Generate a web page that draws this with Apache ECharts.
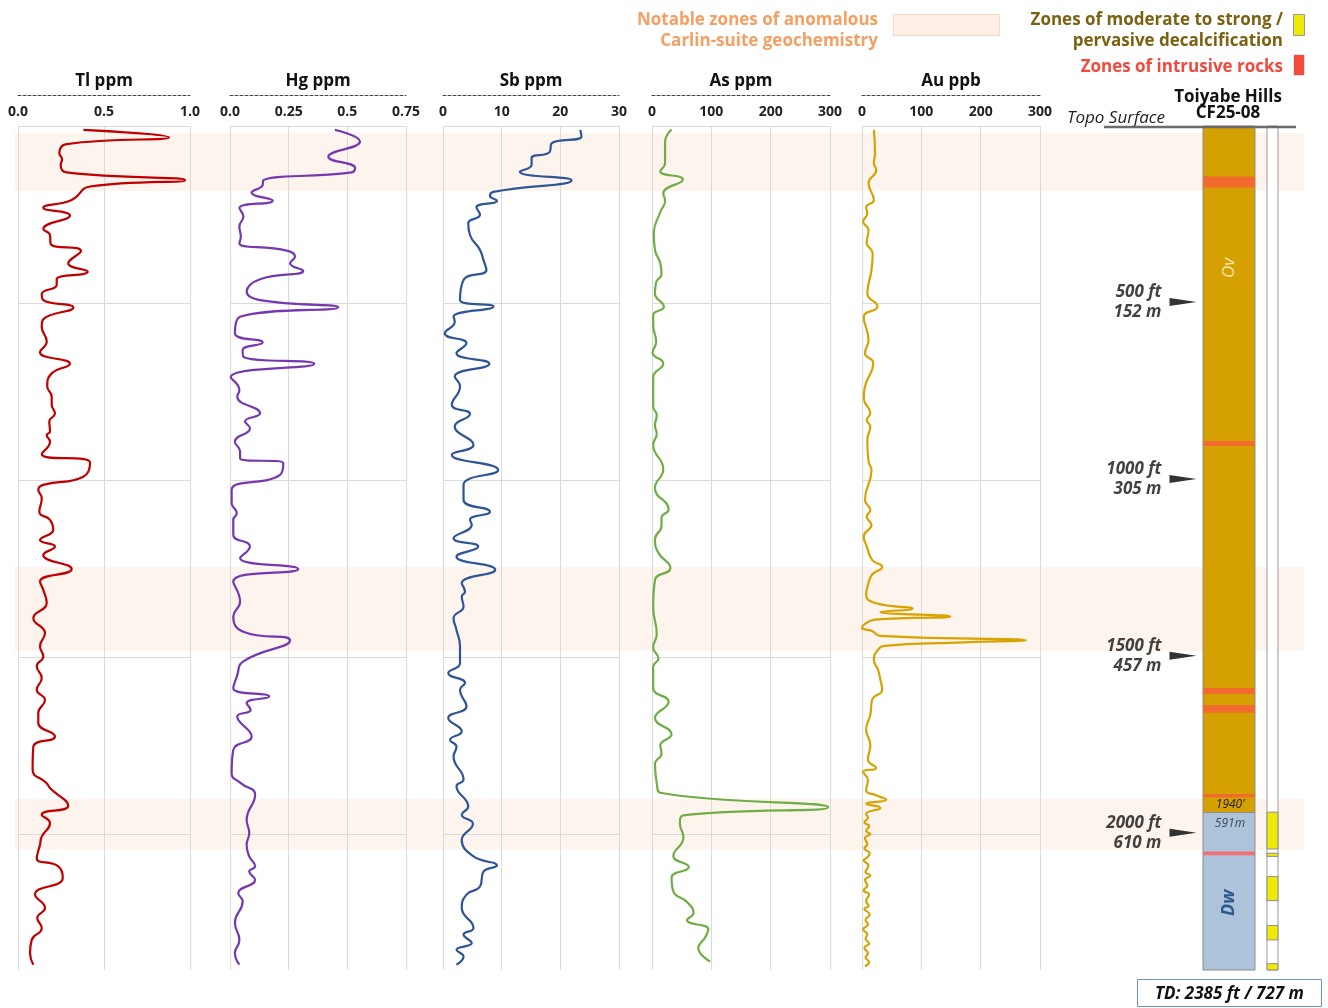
<!DOCTYPE html>
<html>
<head>
<meta charset="utf-8">
<script src="https://cdn.jsdelivr.net/npm/echarts@6/dist/echarts.min.js"></script>
<style>
  html, body { margin: 0; padding: 0; background: #fff; }
  #chart { width: 1328px; height: 1008px; }
</style>
</head>
<body>
<div id="chart"></div>
<script>
// ---- Drill hole CF25-08, Toiyabe Hills: depth in ft, values per element ----
const TOTAL_DEPTH_FT = 2385;
const TOTAL_DEPTH_M = 727;

// [depth ft, Tl ppm]
const tlPpm = [[11,0.38],[32,0.878],[51,0.283],[77,0.24],[94,0.256],[110,0.248],[131,0.283],[153,0.971],[171,0.419],[209,0.312],[231,0.147],[253,0.302],[291,0.147],[308,0.186],[333,0.19],[353,0.366],[388,0.292],[412,0.405],[433,0.225],[449,0.225],[475,0.138],[492,0.147],[513,0.322],[546,0.147],[567,0.138],[609,0.167],[639,0.128],[672,0.302],[699,0.196],[736,0.17],[765,0.196],[788,0.196],[812,0.215],[835,0.182],[864,0.186],[873,0.167],[892,0.186],[927,0.138],[951,0.419],[991,0.38],[1014,0.147],[1028,0.118],[1052,0.138],[1090,0.124],[1113,0.186],[1141,0.205],[1170,0.128],[1188,0.215],[1212,0.147],[1252,0.312],[1287,0.128],[1311,0.147],[1348,0.167],[1391,0.089],[1433,0.157],[1471,0.128],[1499,0.147],[1527,0.109],[1560,0.138],[1593,0.109],[1622,0.157],[1659,0.118],[1687,0.118],[1725,0.215],[1754,0.089],[1819,0.085],[1857,0.167],[1871,0.186],[1921,0.292],[1946,0.138],[1970,0.186],[2008,0.138],[2031,0.128],[2069,0.109],[2092,0.234],[2125,0.26],[2172,0.099],[2210,0.157],[2238,0.112],[2266,0.138],[2300,0.08],[2337,0.07],[2370,0.089]];

// [depth ft, Hg ppm]
const hgPpm = [[11,0.447],[44,0.554],[87,0.419],[119,0.533],[131,0.52],[153,0.142],[167,0.139],[188,0.092],[211,0.182],[232,0.04],[256,0.057],[284,0.04],[313,0.046],[331,0.04],[352,0.242],[369,0.277],[388,0.256],[409,0.312],[433,0.128],[468,0.071],[492,0.128],[512,0.461],[539,0.043],[586,0.021],[612,0.139],[633,0.054],[652,0.057],[672,0.359],[710,0.003],[746,0.04],[765,0.031],[812,0.128],[835,0.064],[854,0.085],[892,0.021],[920,0.043],[939,0.043],[953,0.227],[986,0.213],[1028,0.007],[1066,0.007],[1094,0.029],[1113,0.014],[1155,0.014],[1188,0.085],[1221,0.043],[1252,0.291],[1287,0.014],[1344,0.043],[1386,0.014],[1429,0.057],[1454,0.256],[1513,0.057],[1556,0.029],[1589,0.014],[1612,0.167],[1631,0.071],[1650,0.088],[1669,0.031],[1725,0.092],[1763,0.014],[1829,0.007],[1857,0.046],[1890,0.107],[1961,0.071],[1998,0.082],[2031,0.071],[2064,0.082],[2092,0.107],[2107,0.082],[2130,0.107],[2168,0.035],[2191,0.054],[2252,0.021],[2300,0.04],[2337,0.021],[2370,0.04]];

// [depth ft, Sb ppm]
const sbPpm = [[11,23.4],[30,23.6],[49,18.5],[73,18.2],[91,15.1],[110,15.1],[129,13.1],[153,21.9],[186,8.6],[198,8.0],[211,9.2],[230,5.7],[251,6.3],[275,4.3],[308,4.6],[350,6.3],[379,6.9],[407,7.4],[435,3.5],[492,2.9],[510,8.6],[539,1.8],[553,2.0],[586,0.3],[614,4.0],[642,2.3],[672,7.9],[708,2.0],[736,2.9],[788,1.5],[814,4.6],[849,2.0],[901,5.2],[929,1.5],[972,9.4],[1014,3.5],[1057,3.5],[1090,8.0],[1113,4.6],[1127,4.9],[1165,1.8],[1188,6.0],[1217,2.3],[1254,8.9],[1292,3.2],[1316,3.75],[1330,3.2],[1358,3.5],[1391,1.8],[1424,2.3],[1471,2.9],[1518,2.9],[1546,0.9],[1574,3.75],[1593,2.9],[1640,4.0],[1673,0.9],[1711,3.2],[1735,1.2],[1754,2.3],[1782,1.8],[1847,3.5],[1866,2.3],[1923,4.3],[1946,3.2],[1972,5.1],[2017,3.2],[2064,5.2],[2090,9.2],[2107,6.9],[2149,6.3],[2172,4.0],[2210,3.2],[2266,5.2],[2285,3.5],[2309,4.9],[2328,2.3],[2347,3.5],[2370,2.3]];

// [depth ft, As ppm]
const asPpm = [[10,33],[44,22],[105,22],[128,14],[151,52],[190,19],[212,22],[243,14],[304,3],[350,5],[388,14],[419,16],[442,7],[473,5],[511,20],[534,2],[564,2],[610,7],[641,1],[671,19],[710,2],[794,2],[816,8],[847,5],[870,8],[901,2],[970,19],[1023,5],[1084,28],[1107,16],[1130,16],[1168,5],[1207,11],[1249,31],[1283,5],[1360,2],[1436,8],[1474,2],[1505,11],[1528,2],[1589,2],[1627,28],[1673,5],[1719,33],[1750,14],[1773,16],[1803,5],[1857,8],[1884,14],[1925,297],[1948,53],[1971,47],[2010,53],[2063,36],[2094,62],[2124,33],[2163,36],[2193,59],[2224,70],[2244,59],[2270,95],[2292,90],[2323,78],[2361,98]];

// [depth ft, Au ppb]
const auPpb = [[11,20],[77,22],[105,20],[124,24],[162,11],[209,20],[230,7],[247,9],[270,2],[294,11],[331,8],[360,18],[407,16],[473,9],[510,26],[539,3],[605,11],[642,5],[670,19],[736,5],[769,3],[812,14],[831,8],[849,14],[887,9],[948,11],[972,16],[1057,5],[1085,14],[1104,8],[1127,16],[1160,3],[1188,8],[1226,17],[1246,34],[1268,17],[1297,10],[1325,7],[1348,22],[1364,85],[1373,31],[1386,149],[1395,22],[1407,5],[1418,0],[1427,17],[1441,31],[1453,276],[1460,158],[1469,39],[1480,27],[1509,20],[1537,27],[1565,31],[1593,34],[1622,17],[1664,14],[1706,7],[1749,14],[1791,10],[1814,24],[1825,2],[1848,10],[1876,7],[1893,27],[1904,41],[1915,7],[1927,31],[1944,7],[1955,10],[1968,4],[1978,12],[1992,7],[2001,14],[2012,5],[2030,9],[2041,4],[2055,13],[2068,8],[2075,3],[2090,11],[2108,6],[2118,14],[2131,5],[2146,9],[2160,3],[2172,12],[2190,7],[2204,11],[2212,4],[2228,13],[2244,6],[2256,10],[2270,2],[2284,9],[2297,6],[2310,12],[2322,4],[2338,10],[2350,6],[2362,12],[2375,5]];

// tick labels per track
const tlTicks = ['0.0', '0.5', '1.0'];
const hgTicks = ['0.0', '0.25', '0.5', '0.75'];
const sbTicks = ['0', '10', '20', '30'];
const asTicks = ['0', '100', '200', '300'];
const auTicks = ['0', '100', '200', '300'];

// depth intervals, ft
const anomalyZones = [[20, 184], [1246, 1483], [1901, 2045]];
const lithoUnits = [[0, 1940], [1940, TOTAL_DEPTH_FT]];
const lithoNames = ['Ov', 'Dw'];
const contactFt = 1940;
const contactM = 591;
const intrusiveZones = [[143, 174], [890, 904], [1588, 1605], [1636, 1658], [1888, 1897], [2050, 2061]];
const decalcZones = [[1939, 2043], [2055, 2064], [2121, 2189], [2259, 2300], [2367, TOTAL_DEPTH_FT]];

// depth markers
const markerFt = [500, 1000, 1500, 2000];
const markerM = [152, 305, 457, 610];

// ---- layout & styling ----
const FONT = '"Open Sans", "Noto Sans", sans-serif';
const PLOT_TOP = 126;
const PLOT_HEIGHT = 844;
const GRID_COLOR = '#dadada';
const unitColors = ['#d5a100', '#adc3da'];
const unitLabelDepth = [401, 2195];
const unitLabelStyle = [
  { fill: '#f7e8b8', fontStyle: 'italic', fontWeight: 'normal', fontSize: 17 },
  { fill: '#2b5b8c', fontStyle: 'italic', fontWeight: 'bold', fontSize: 18 }
];

const tracks = [
  { name: 'Tl ppm', data: tlPpm, ticks: tlTicks, max: 1,    interval: 0.5,  color: '#c00000', left: 18,  width: 172 },
  { name: 'Hg ppm', data: hgPpm, ticks: hgTicks, max: 0.75, interval: 0.25, color: '#7538b0', left: 230, width: 176 },
  { name: 'Sb ppm', data: sbPpm, ticks: sbTicks, max: 30,   interval: 10,   color: '#2f5597', left: 443, width: 176 },
  { name: 'As ppm', data: asPpm, ticks: asTicks, max: 300,  interval: 100,  color: '#70ad47', left: 652, width: 178 },
  { name: 'Au ppb', data: auPpb, ticks: auTicks, max: 300,  interval: 100,  color: '#d8a200', left: 862, width: 178 }
];

const LITHO_GRID = tracks.length + 1;
const DECALC_GRID = tracks.length + 2;

const grids = [{ left: 15, top: PLOT_TOP, width: 1289, height: PLOT_HEIGHT }]
  .concat(tracks.map(t => ({ left: t.left, top: PLOT_TOP, width: t.width, height: PLOT_HEIGHT })))
  .concat([
    { left: 1203, top: PLOT_TOP, width: 52, height: PLOT_HEIGHT },
    { left: 1267, top: PLOT_TOP, width: 11, height: PLOT_HEIGHT }
  ]);

const hiddenX = g => ({ gridIndex: g, type: 'value', show: false, min: 0, max: 1 });
const hiddenY = g => ({ gridIndex: g, type: 'value', show: false, inverse: true, min: 0, max: TOTAL_DEPTH_FT });

const xAxes = [hiddenX(0)]
  .concat(tracks.map((t, i) => ({
    gridIndex: i + 1,
    type: 'value',
    position: 'top',
    min: 0,
    max: t.max,
    interval: t.interval,
    offset: 31,
    name: t.name,
    nameLocation: 'middle',
    nameGap: 3,
    nameTextStyle: { fontFamily: FONT, fontSize: 17, fontWeight: 'bold', color: '#111', lineHeight: 11 },
    axisLine: { show: true, onZero: false, lineStyle: { color: '#444', width: 1, type: [3, 2] } },
    axisTick: { show: false },
    axisLabel: {
      inside: true, margin: 10,
      formatter: (v, idx) => t.ticks[idx],
      fontFamily: FONT, fontSize: 14, fontWeight: 'bold', color: '#222'
    },
    splitLine: { show: true, lineStyle: { color: GRID_COLOR, width: 1 } }
  })))
  .concat([hiddenX(LITHO_GRID), hiddenX(DECALC_GRID)]);

const yAxes = [hiddenY(0)]
  .concat(tracks.map((t, i) => ({
    gridIndex: i + 1,
    type: 'value',
    inverse: true,
    min: 0,
    max: TOTAL_DEPTH_FT,
    interval: 500,
    axisLine: { show: false, onZero: false },
    axisTick: { show: false },
    axisLabel: { show: false },
    splitLine: { show: true, showMaxLine: false, lineStyle: { color: GRID_COLOR, width: 1 } }
  })))
  .concat([hiddenY(LITHO_GRID), hiddenY(DECALC_GRID)]);

// full-width depth interval rectangle
function intervalRect(params, api, style) {
  const cs = params.coordSys;
  const y0 = api.coord([0, api.value(0)])[1];
  const y1 = api.coord([0, api.value(1)])[1];
  return { type: 'rect', shape: { x: cs.x, y: y0, width: cs.width, height: y1 - y0 }, style: style };
}

const series = [];

// anomalous geochemistry zones behind everything
series.push({
  type: 'custom', xAxisIndex: 0, yAxisIndex: 0, z: -1, silent: true,
  data: anomalyZones,
  renderItem: (p, api) => intervalRect(p, api, { fill: '#fdf4ed' })
});

// geochemistry curves
tracks.forEach((t, i) => {
  series.push({
    type: 'line', xAxisIndex: i + 1, yAxisIndex: i + 1,
    data: t.data.map(([d, v]) => [v, d]),
    smooth: 0.5, showSymbol: false, silent: true,
    lineStyle: { color: t.color, width: 2.2 },
    itemStyle: { color: t.color }
  });
});

// lithology column
series.push({
  type: 'custom', xAxisIndex: LITHO_GRID, yAxisIndex: LITHO_GRID, silent: true,
  data: lithoUnits,
  renderItem: (p, api) => intervalRect(p, api, { fill: unitColors[p.dataIndex], stroke: '#8d8d8d', lineWidth: 1 })
});

// intrusive rocks within the column
series.push({
  type: 'custom', xAxisIndex: LITHO_GRID, yAxisIndex: LITHO_GRID, silent: true,
  data: intrusiveZones,
  renderItem: (p, api) => intervalRect(p, api, { fill: api.value(0) < contactFt ? '#f26a2d' : '#ef7070' })
});

// unit names and contact depth
series.push({
  type: 'custom', xAxisIndex: LITHO_GRID, yAxisIndex: LITHO_GRID, silent: true,
  data: lithoNames.map((n, i) => [i]),
  renderItem: (p, api) => {
    const cs = p.coordSys;
    const i = p.dataIndex;
    const cx = cs.x + cs.width / 2;
    const children = [{
      type: 'text',
      x: cx, y: api.coord([0, unitLabelDepth[i]])[1],
      rotation: Math.PI / 2,
      style: Object.assign({ text: lithoNames[i], fontFamily: FONT, align: 'center', verticalAlign: 'middle' }, unitLabelStyle[i])
    }];
    if (i === 0) {
      const yc = api.coord([0, contactFt])[1];
      children.push({
        type: 'text', x: cx + 1, y: yc - 8,
        style: { text: contactFt + '\u2019', fontFamily: FONT, fontStyle: 'italic', fontSize: 12, fill: '#222', align: 'center', verticalAlign: 'middle' }
      });
      children.push({
        type: 'text', x: cx + 1, y: yc + 11,
        style: { text: contactM + 'm', fontFamily: FONT, fontStyle: 'italic', fontSize: 12, fill: '#3c4a5c', align: 'center', verticalAlign: 'middle' }
      });
    }
    return { type: 'group', children: children };
  }
});

// depth markers with arrows
series.push({
  type: 'scatter', xAxisIndex: LITHO_GRID, yAxisIndex: LITHO_GRID, silent: true, clip: false,
  data: markerFt.map(d => [0, d]),
  symbol: 'path://M0,0L27,4L0,8Z',
  symbolSize: [27, 8],
  symbolOffset: [-20, -1],
  itemStyle: { color: '#000' },
  label: {
    show: true, position: 'left', distance: 8,
    formatter: p => markerFt[p.dataIndex] + ' ft\n' + markerM[p.dataIndex] + ' m',
    fontFamily: FONT, fontSize: 17, fontWeight: 'bold', fontStyle: 'italic',
    color: '#111', lineHeight: 20, align: 'right'
  }
});

// decalcification column
series.push({
  type: 'custom', xAxisIndex: DECALC_GRID, yAxisIndex: DECALC_GRID, silent: true,
  data: [[0, TOTAL_DEPTH_FT]],
  renderItem: (p, api) => intervalRect(p, api, { fill: '#fff', stroke: '#9a9a9a', lineWidth: 1 })
});
series.push({
  type: 'custom', xAxisIndex: DECALC_GRID, yAxisIndex: DECALC_GRID, silent: true,
  data: decalcZones,
  renderItem: (p, api) => intervalRect(p, api, { fill: '#eeea06', stroke: '#8f8f8f', lineWidth: 1 })
});

// legend, titles and annotations
const txt = (x, y, text, style) => ({
  type: 'text', x: x, y: y, z: 100,
  style: Object.assign({ text: text, fontFamily: FONT, verticalAlign: 'middle' }, style)
});

const graphic = [
  txt(878, 30.5, 'Notable zones of anomalous\nCarlin-suite geochemistry',
    { fill: '#f4a064', fontSize: 17, fontWeight: 'bold', align: 'right', lineHeight: 21 }),
  { type: 'rect', z: 100, shape: { x: 893.5, y: 14.5, width: 106, height: 21 }, style: { fill: '#fdefe6', stroke: '#f7d8c4', lineWidth: 1 } },
  txt(1283, 30.5, 'Zones of moderate to strong /\npervasive decalcification',
    { fill: '#7a6212', fontSize: 17, fontWeight: 'bold', align: 'right', lineHeight: 21 }),
  { type: 'rect', z: 100, shape: { x: 1293.5, y: 14.5, width: 11, height: 21 }, style: { fill: '#eeea06', stroke: '#9a9a9a', lineWidth: 1 } },
  txt(1283, 67, 'Zones of intrusive rocks',
    { fill: '#f04a3e', fontSize: 17, fontWeight: 'bold', align: 'right' }),
  { type: 'rect', z: 100, shape: { x: 1293.5, y: 54.5, width: 11, height: 21 }, style: { fill: '#f24b3a', stroke: '#e4e4e4', lineWidth: 1 } },
  txt(1228, 105, 'Toiyabe Hills\nCF25-08',
    { fill: '#111', fontSize: 17, fontWeight: 'bold', align: 'center', lineHeight: 16 }),
  txt(1067, 118, 'Topo Surface',
    { fill: '#222', fontSize: 17, fontStyle: 'italic', align: 'left' }),
  { type: 'line', z: 101, shape: { x1: 1104, y1: 127, x2: 1296, y2: 127 }, style: { stroke: '#6b6b6b', lineWidth: 2.5 } },
  { type: 'rect', z: 100, shape: { x: 1137.5, y: 979.5, width: 184, height: 27 }, style: { fill: '#fff', stroke: '#6f90cf', lineWidth: 1 } },
  txt(1229.5, 994, 'TD: ' + TOTAL_DEPTH_FT + ' ft / ' + TOTAL_DEPTH_M + ' m',
    { fill: '#111', fontSize: 17, fontWeight: 'bold', fontStyle: 'italic', align: 'center' })
];

const chart = echarts.init(document.getElementById('chart'), null, { renderer: 'canvas' });
chart.setOption({
  animation: false,
  backgroundColor: '#ffffff',
  textStyle: { fontFamily: FONT },
  grid: grids,
  xAxis: xAxes,
  yAxis: yAxes,
  series: series,
  graphic: graphic
});
</script>
</body>
</html>
